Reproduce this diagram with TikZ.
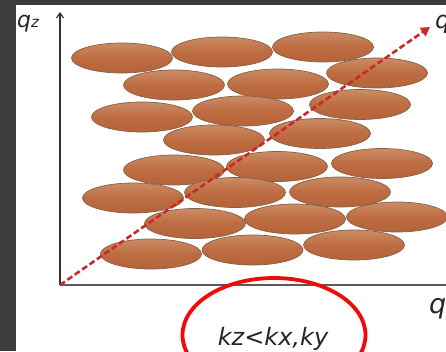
\documentclass[tikz,border=0pt]{standalone}
\usepackage{fontspec}
\setmainfont{DejaVu Sans}
\usetikzlibrary{shapes.geometric,arrows.meta}
\definecolor{darkbg}{RGB}{60,60,60}
\definecolor{brtop}{RGB}{202,140,100}
\definecolor{brmid}{RGB}{190,108,66}
\definecolor{brbot}{RGB}{180,100,58}
\definecolor{brline}{RGB}{135,95,70}
\definecolor{dashred}{RGB}{205,40,40}
\definecolor{ringred}{RGB}{240,10,10}
\definecolor{axisgray}{RGB}{50,50,50}
\tikzset{
  grain/.style={ellipse, inner sep=0pt, minimum width=101pt, minimum height=30pt,
    draw=brline, line width=0.7pt, top color=brtop, bottom color=brbot, middle color=brmid},
  axisline/.style={draw=axisgray, line width=1.2pt},
  dasharrow/.style={draw=dashred, line width=2.6pt, dash pattern=on 6pt off 3pt,
    -{Triangle[length=9pt,width=10pt,fill=dashred]}},
  ring/.style={draw=ringred, line width=3.8pt},
  lbl/.style={inner sep=0pt, text=black!85, font=\itshape}
}
\begin{document}
\begin{tikzpicture}[x=1pt,y=-1pt]
\useasboundingbox (0,0) rectangle (446,351);
\clip (0,0) rectangle (446,351);
\fill[darkbg] (0,0) rectangle (446,351);
\fill[white] (16,5) rectangle (446,351);
% grains
\node[grain] (e1) at (122,58) {};
\node[grain] (e2) at (222,52) {};
\node[grain] (e3) at (323,47) {};
\node[grain] (e4) at (174,85) {};
\node[grain] (e5) at (278,84) {};
\node[grain] (e6) at (377,73) {};
\node[grain] (e7) at (142,117) {};
\node[grain] (e8) at (243,111) {};
\node[grain] (e9) at (360,104.5) {};
\node[grain] (e10) at (214,140) {};
\node[grain] (e11) at (320,133.5) {};
\node[grain] (e12) at (174,170) {};
\node[grain] (e13) at (277,166.5) {};
\node[grain] (e14) at (382,163.5) {};
\node[grain] (e15) at (133,198) {};
\node[grain] (e16) at (235,192.5) {};
\node[grain] (e17) at (340,192) {};
\node[grain] (e18) at (195,223.5) {};
\node[grain] (e19) at (295,219) {};
\node[grain] (e20) at (397,217) {};
\node[grain] (e21) at (151,254) {};
\node[grain] (e22) at (252.5,250) {};
\node[grain] (e23) at (354,245) {};
% axes
\coordinate (O) at (60,285);
\coordinate (ztip) at (60,12);
\coordinate (xend) at (447,285);
\coordinate (qtip) at (430,27);
\draw[axisline, -{Straight Barb[length=5pt,width=7pt]}] (O) -- (ztip);
\draw[axisline, draw=axisgray!80] (O) -- (xend);
\draw[dasharrow] (O) -- (qtip);
% labels
\node[lbl, anchor=base west] (qz) at (17,27) {\fontsize{22}{22}\selectfont q\fontsize{15}{15}\selectfont z};
\node[lbl, anchor=base west] (qx) at (429,313) {\fontsize{27}{27}\selectfont q};
\node[lbl, anchor=base west] (qd) at (435,28) {\fontsize{24}{24}\selectfont q};
% ring and relation
\node[ring, ellipse, minimum width=183pt, minimum height=114pt, inner sep=0pt] (ring) at (274,335) {};
\node[lbl, anchor=base] (rel) at (273,345) {\fontsize{24}{24}\selectfont kz<kx,ky};
\end{tikzpicture}
\end{document}
